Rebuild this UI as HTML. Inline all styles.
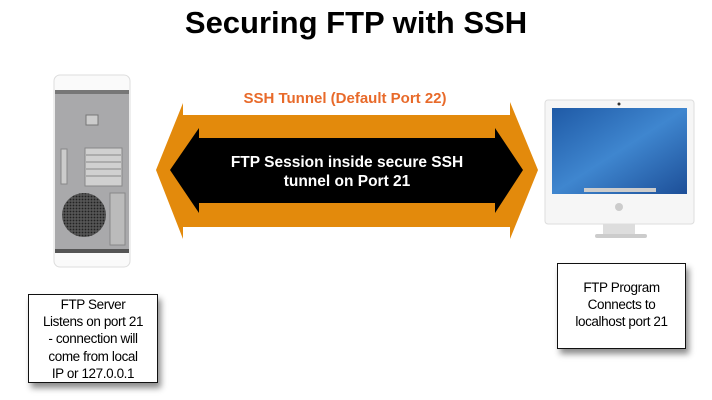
<!DOCTYPE html>
<html><head><meta charset="utf-8"><style>
body{margin:0;width:712px;height:400px;background:#fff;overflow:hidden;position:relative;font-family:"Liberation Sans",Arial,sans-serif}
.t{position:absolute;left:0;width:712px;top:5px;text-align:center;font-weight:bold;font-size:31px;color:#000}
.box{position:absolute;border:1.5px solid #111;background:#fff;box-shadow:3px 5px 6px rgba(0,0,0,.45);text-align:center;font-size:13.5px;line-height:17.2px;letter-spacing:-0.4px;color:#000;box-sizing:border-box}
</style></head><body>
<div class="t">Securing FTP with SSH</div>
<svg width="712" height="400" style="position:absolute;left:0;top:0">
<defs>
<linearGradient id="sc" x1="0" y1="0" x2="1" y2="1"><stop offset="0" stop-color="#1f5aa6"/><stop offset=".5" stop-color="#3f86cf"/><stop offset="1" stop-color="#1d4f98"/></linearGradient>
<pattern id="dots" width="3" height="3" patternUnits="userSpaceOnUse"><rect width="3" height="3" fill="#555"/><circle cx="1.5" cy="1.5" r="0.9" fill="#222"/></pattern>
</defs>
<rect x="54" y="75" width="76" height="192" rx="6" fill="#fafafa" stroke="#ddd"/>
<rect x="55" y="90" width="74" height="163" fill="#a9a9ab"/>
<rect x="55" y="90" width="74" height="4" fill="#777"/>
<rect x="55" y="249" width="74" height="4" fill="#555"/>
<rect x="86" y="115" width="12" height="10" fill="#ccc" stroke="#777"/>
<rect x="85" y="148" width="37" height="38" fill="#d0d0d0" stroke="#888"/>
<line x1="86" y1="155" x2="121" y2="155" stroke="#888"/><line x1="86" y1="162" x2="121" y2="162" stroke="#888"/><line x1="86" y1="169" x2="121" y2="169" stroke="#888"/><line x1="86" y1="176" x2="121" y2="176" stroke="#888"/>
<rect x="61" y="149" width="6" height="35" fill="#ccc" stroke="#888"/>
<circle cx="84" cy="215" r="22" fill="url(#dots)"/>
<rect x="110" y="193" width="15" height="52" fill="#bbb" stroke="#888"/>
<polygon points="156,170 183,103 183,115 510,115 510,102 538,170 510,239 510,227 183,227 183,239" fill="#e38a0c"/>
<polygon points="170,170 199,128 199,138 495,138 495,128 523,170 495,213 495,203 199,203 199,213" fill="#000"/>
<text x="345" y="103" text-anchor="middle" font-family="Liberation Sans" font-weight="bold" font-size="15" fill="#e86a2a">SSH Tunnel (Default Port 22)</text>
<text x="347" y="167" text-anchor="middle" font-family="Liberation Sans" font-weight="bold" font-size="15.5" fill="#fff">FTP Session inside secure SSH</text>
<text x="347" y="186" text-anchor="middle" font-family="Liberation Sans" font-weight="bold" font-size="15.5" fill="#fff">tunnel on Port 21</text>
<rect x="545" y="100" width="149" height="124" rx="3" fill="#f6f6f6" stroke="#ddd"/>
<rect x="552" y="108" width="135" height="86" fill="url(#sc)"/>
<circle cx="619" cy="104" r="1.5" fill="#333"/>
<rect x="584" y="188" width="72" height="4" fill="#ccc"/>
<circle cx="619" cy="207" r="4" fill="#ccc"/>
<rect x="603" y="224" width="32" height="10" fill="#ddd"/>
<rect x="595" y="234" width="52" height="4" rx="2" fill="#ccc"/>
</svg>
<div class="box" style="left:28px;top:294px;width:130px;height:89px;padding-top:1px">FTP Server<br>Listens on port 21<br>- connection will<br>come from local<br>IP or 127.0.0.1</div>
<div class="box" style="left:557px;top:263px;width:129px;height:86px;padding-top:15px">FTP Program<br>Connects to<br>localhost port 21</div>
</body></html>
